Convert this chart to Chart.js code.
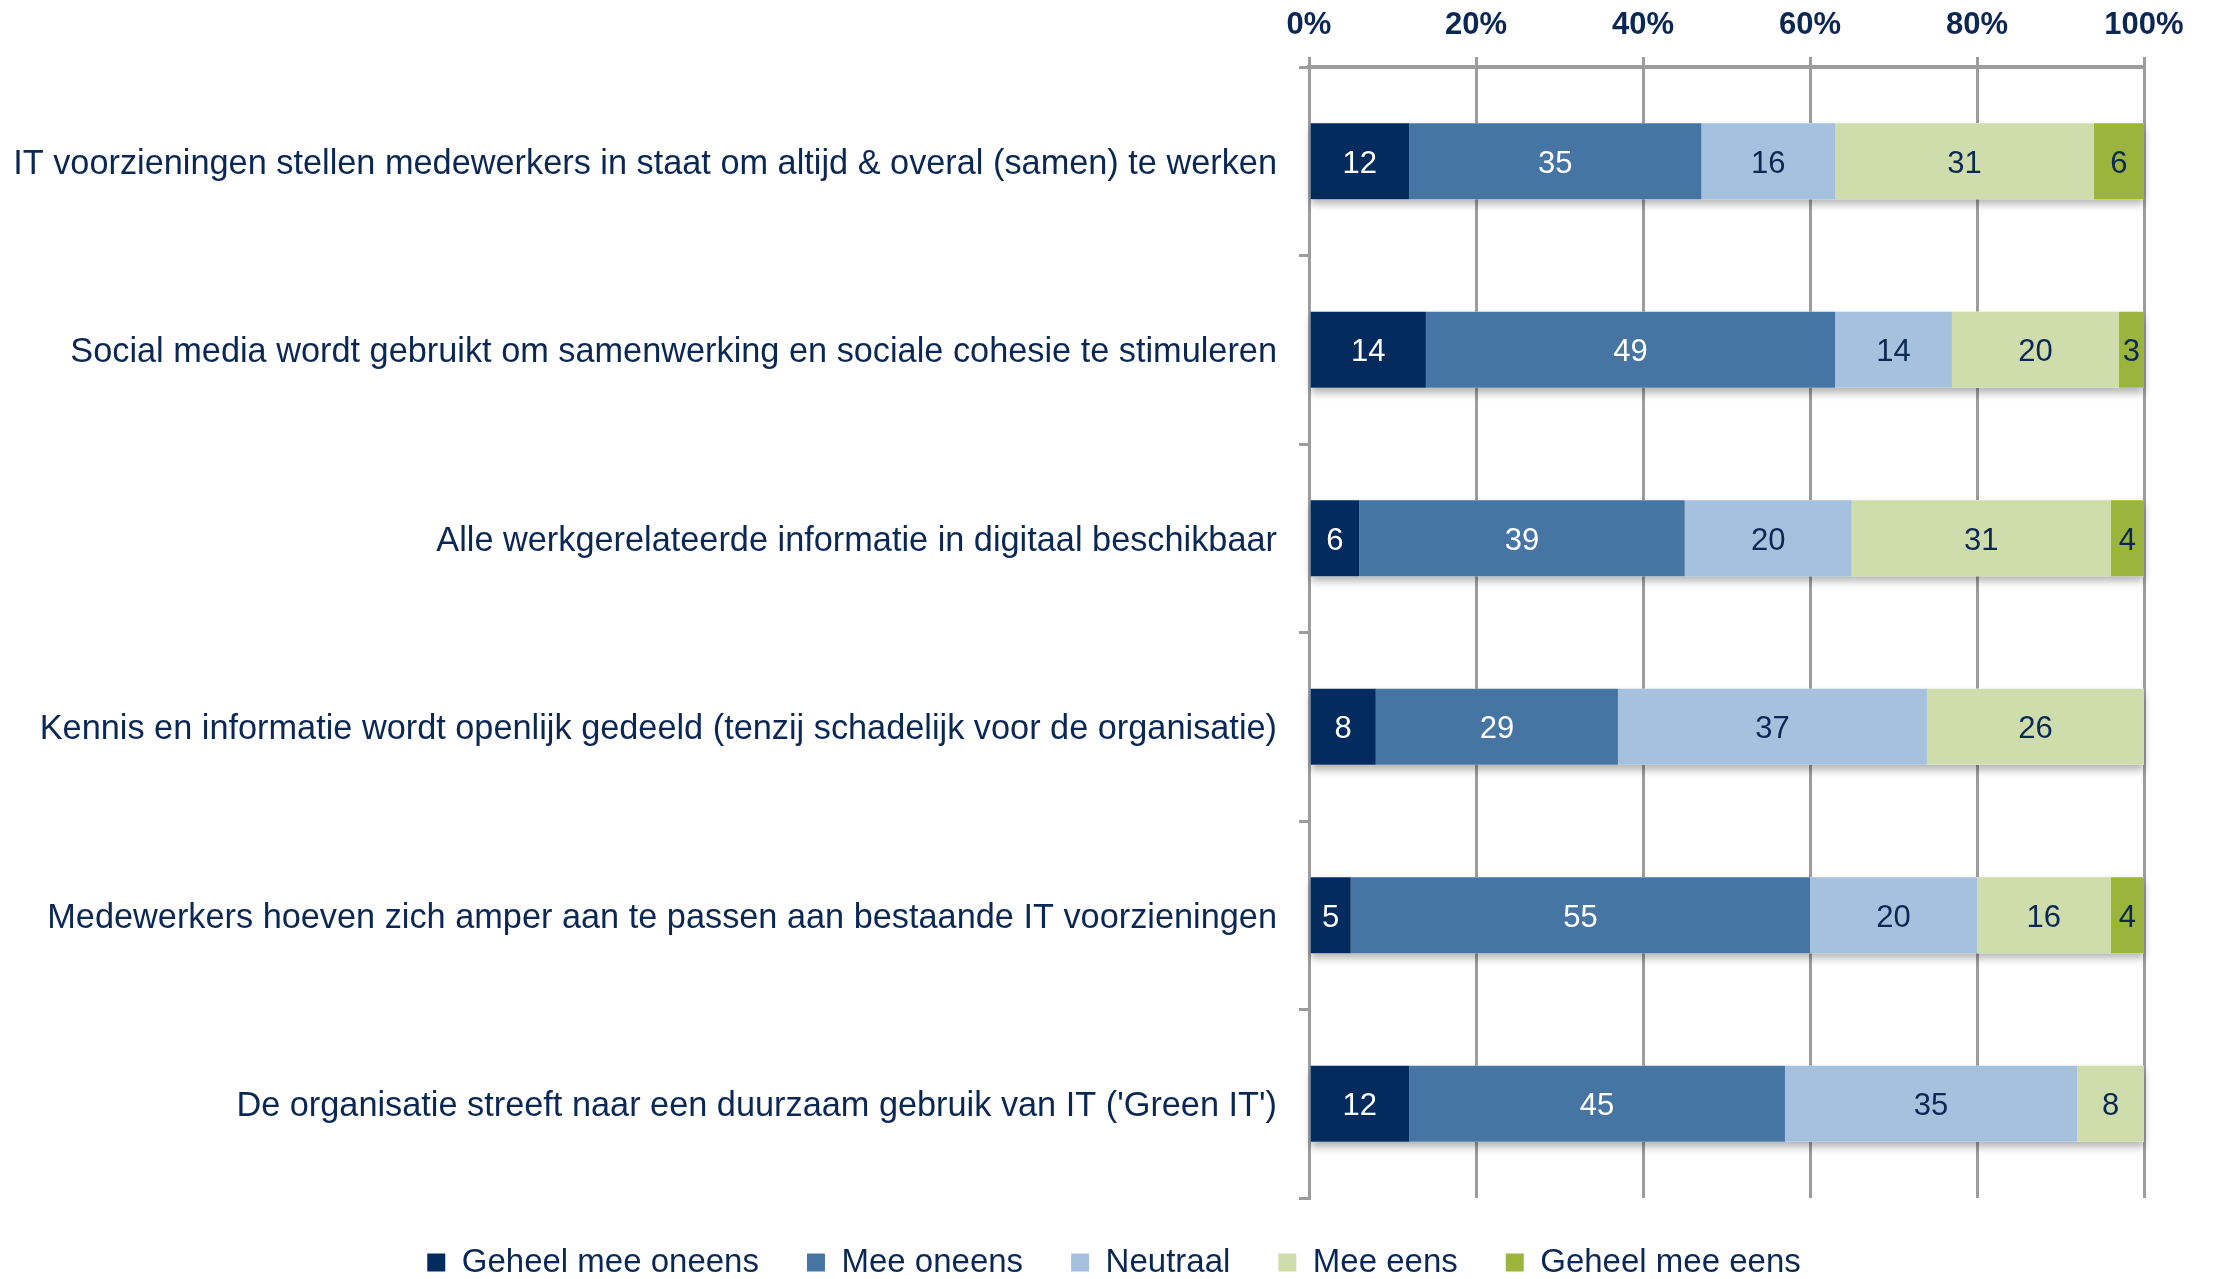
<!DOCTYPE html>
<html>
<head>
<meta charset="utf-8">
<title>IT op de werkplek</title>
<script src="https://cdn.jsdelivr.net/npm/chart.js@4.4.1/dist/chart.umd.min.js"></script>
<style>
  html, body { margin: 0; padding: 0; background: #ffffff; }
  #wrap { width: 2216px; height: 1279px; position: relative; }
  canvas { display: block; }
</style>
</head>
<body>
<div id="wrap"><canvas id="chart" width="2216" height="1279"></canvas></div>
<script>
// Statements (one horizontal bar each)
const categories = [
  "IT voorzieningen stellen medewerkers in staat om altijd & overal (samen) te werken",
  "Social media wordt gebruikt om samenwerking en sociale cohesie te stimuleren",
  "Alle werkgerelateerde informatie in digitaal beschikbaar",
  "Kennis en informatie wordt openlijk gedeeld (tenzij schadelijk voor de organisatie)",
  "Medewerkers hoeven zich amper aan te passen aan bestaande IT voorzieningen",
  "De organisatie streeft naar een duurzaam gebruik van IT ('Green IT')"
];

// Answer shares per statement, in percent
const geheelMeeOneens = [12, 14, 6, 8, 5, 12];
const meeOneens       = [35, 49, 39, 29, 55, 45];
const neutraal        = [16, 14, 20, 37, 20, 35];
const meeEens         = [31, 20, 31, 26, 16, 8];
const geheelMeeEens   = [6, 3, 4, 0, 4, 0];

const seriesNames = ["Geheel mee oneens", "Mee oneens", "Neutraal", "Mee eens", "Geheel mee eens"];
const tickValues = [0, 20, 40, 60, 80, 100];

const FONT = "'Liberation Sans', Arial, Helvetica, sans-serif";
const NAVY = "#0b2753";
const GRID = "#9d9d9d";

const palette = ["#032b5e", "#4674a3", "#a5c1de", "#cfdcac", "#9bb43c"];
const labelColors = ["#ffffff", "#ffffff", NAVY, NAVY, NAVY];
const seriesValues = [geheelMeeOneens, meeOneens, neutraal, meeEens, geheelMeeEens];

const PAD_LEFT = 10;
const AXIS_X = 1309;        // left edge of the plot area
const LEGEND_SHIFT = 37;    // legend sits a little right of the canvas centre

const datasets = seriesNames.map((name, i) => ({
  label: name,
  data: seriesValues[i],
  backgroundColor: palette[i],
  borderWidth: 0,
  categoryPercentage: 1.0,
  barPercentage: 0.404,
  labelColor: labelColors[i]
}));

// Soft shadow under each full stacked bar, painted before the segments
const barShadow = {
  id: "barShadow",
  beforeDatasetsDraw(chart) {
    const ctx = chart.ctx;
    ctx.save();
    ctx.shadowColor = "rgba(0,0,0,0.30)";
    ctx.shadowBlur = 8;
    ctx.shadowOffsetY = 5;
    ctx.fillStyle = "#ffffff";
    chart.data.labels.forEach((_, i) => {
      let left = Infinity, right = -Infinity, top = 0, h = 0;
      chart.data.datasets.forEach((ds, di) => {
        const el = chart.getDatasetMeta(di).data[i];
        if (!el) return;
        const p = el.getProps(["x", "base", "y", "height"], true);
        left = Math.min(left, p.x, p.base);
        right = Math.max(right, p.x, p.base);
        top = p.y - p.height / 2;
        h = p.height;
      });
      ctx.fillRect(left, top, right - left, h);
    });
    ctx.restore();
  }
};

// Value printed in the middle of every segment
const segmentValues = {
  id: "segmentValues",
  afterDatasetsDraw(chart) {
    const ctx = chart.ctx;
    ctx.save();
    ctx.font = "31px " + FONT;
    ctx.textAlign = "center";
    ctx.textBaseline = "middle";
    chart.data.datasets.forEach((ds, di) => {
      chart.getDatasetMeta(di).data.forEach((el, i) => {
        const v = ds.data[i];
        if (!v) return;
        const p = el.getProps(["x", "base", "y"], true);
        ctx.fillStyle = ds.labelColor;
        ctx.fillText(String(v), (p.x + p.base) / 2, p.y + 3);
      });
    });
    ctx.restore();
  }
};

// Move the legend row to the right after layout
const legendShift = {
  id: "legendShift",
  afterLayout(chart) {
    if (chart.legend) {
      chart.legend.left += LEGEND_SHIFT;
      chart.legend.right += LEGEND_SHIFT;
    }
  }
};

new Chart(document.getElementById("chart"), {
  type: "bar",
  data: { labels: categories, datasets: datasets },
  plugins: [barShadow, segmentValues, legendShift],
  options: {
    indexAxis: "y",
    responsive: false,
    animation: false,
    layout: { padding: { left: PAD_LEFT, right: 72, top: 0, bottom: -10 } },
    plugins: {
      tooltip: { enabled: false },
      legend: {
        position: "bottom",
        labels: {
          boxWidth: 18,
          boxHeight: 18,
          padding: 48,
          color: NAVY,
          font: { family: FONT, size: 33 }
        }
      }
    },
    scales: {
      x: {
        position: "top",
        stacked: true,
        min: 0,
        max: 100,
        afterBuildTicks: (scale) => { scale.ticks = tickValues.map(v => ({ value: v })); },
        afterFit: (scale) => { scale.height = 67; },
        ticks: {
          callback: (v) => v + "%",
          color: NAVY,
          font: { family: FONT, size: 31, weight: "bold" },
          padding: 13,
          maxRotation: 0,
          autoSkip: false
        },
        grid: { color: GRID, lineWidth: 3, drawTicks: true, tickLength: 10 },
        border: { display: true, color: GRID, width: 4 }
      },
      y: {
        stacked: true,
        afterFit: (scale) => { scale.width = AXIS_X - PAD_LEFT; },
        ticks: {
          color: NAVY,
          font: { family: FONT, size: 34.3 },
          padding: 22,
          labelOffset: 3,
          autoSkip: false
        },
        grid: {
          display: true,
          drawOnChartArea: false,
          drawTicks: true,
          tickLength: 10,
          offset: true,
          color: GRID,
          lineWidth: 3
        },
        border: { display: true, color: GRID, width: 3 }
      }
    }
  }
});
</script>
</body>
</html>
